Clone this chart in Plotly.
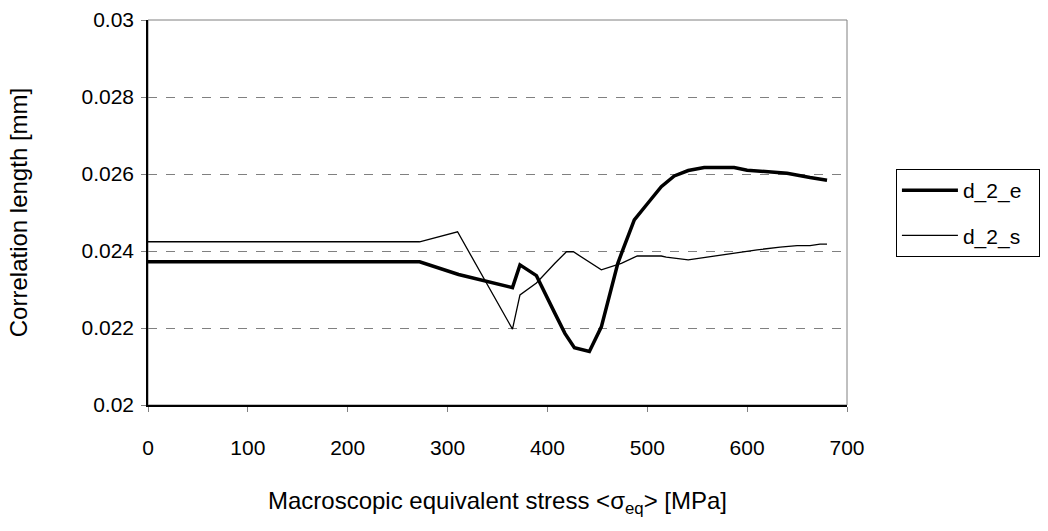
import plotly.graph_objects as go

# Data
stress_e = [0, 272, 311, 365, 372.5, 389, 407.5, 417.5, 427, 442, 454, 464, 470.5,
            475.5, 487, 500.5, 514, 527, 541, 557, 572, 587, 600, 620, 640, 663, 680]
d_2_e = [0.02372, 0.02372, 0.02339, 0.02305, 0.02364, 0.02336, 0.02238, 0.02186,
         0.02149, 0.02139, 0.02203, 0.02299, 0.02368, 0.02403, 0.02481, 0.02524,
         0.02567, 0.02595, 0.02609, 0.02617, 0.02617, 0.02617, 0.02610, 0.02606,
         0.02602, 0.02591, 0.02584]

stress_s = [0, 272, 310, 365, 372.5, 389, 407.5, 419, 426, 454, 474, 490, 514, 519,
            541, 567, 587, 610, 633, 650, 663, 673, 680]
d_2_s = [0.02424, 0.02424, 0.0245, 0.02197, 0.02286, 0.02317, 0.02368, 0.02398,
         0.02398, 0.02351, 0.02368, 0.02387, 0.02387, 0.02384, 0.02377, 0.02387,
         0.02396, 0.02403, 0.0241, 0.02414, 0.02414, 0.02418, 0.02418]

series_names = ["d_2_e", "d_2_s"]
x_ticks = [0, 100, 200, 300, 400, 500, 600, 700]
y_ticks = [0.02, 0.022, 0.024, 0.026, 0.028, 0.03]
y_tick_labels = ["0.02", "0.022", "0.024", "0.026", "0.028", "0.03"]

FONT = "Liberation Sans, Arial, sans-serif"
PAD = "\u00a0\u00a0"  # widens legend box to match reference

fig = go.Figure()
fig.add_trace(go.Scatter(x=stress_e, y=d_2_e, mode="lines", name=series_names[0] + PAD,
                         legendgroup="e",
                         line=dict(color="black", width=3.5)))
fig.add_trace(go.Scatter(x=stress_s, y=d_2_s, mode="lines", name=series_names[1] + PAD,
                         legendgroup="s",
                         line=dict(color="black", width=1.3)))

fig.update_layout(
    width=1048, height=531,
    margin=dict(l=148, r=201, t=20, b=126, autoexpand=False),
    paper_bgcolor="white", plot_bgcolor="white",
    font=dict(family=FONT, size=20, color="black"),
    showlegend=True,
    legend=dict(x=1.07, y=0.613, xanchor="left", yanchor="top",
                bordercolor="black", borderwidth=1, bgcolor="white",
                font=dict(family=FONT, size=21, color="black"), tracegroupgap=15,
                itemwidth=56),
    xaxis=dict(range=[0, 700], tickvals=x_ticks, ticks="outside", ticklen=5,
               tickcolor="#808080", showline=True, linecolor="black", linewidth=1.5,
               mirror=False, showgrid=False, zeroline=False,
               tickfont=dict(family=FONT, size=21, color="black"),
               title=dict(text="Macroscopic equivalent stress &lt;σ<sub>eq</sub>&gt; [MPa]",
                          standoff=34),
               ticklabelstandoff=18),
    yaxis=dict(range=[0.02, 0.03], tickvals=y_ticks, ticktext=y_tick_labels,
               ticks="outside", ticklen=5, tickcolor="#808080",
               showline=True, linecolor="black", linewidth=1.5, zeroline=False,
               showgrid=True, gridcolor="#808080", griddash="dash", gridwidth=1,
               tickfont=dict(family=FONT, size=21, color="black"),
               title=dict(text="Correlation length [mm]", standoff=47),
               ticklabelstandoff=3),
    shapes=[dict(type="rect", xref="paper", yref="paper", x0=0, x1=1, y0=0, y1=1,
                 line=dict(color="#808080", width=1), layer="below")],
)

fig.write_html("out.html")
